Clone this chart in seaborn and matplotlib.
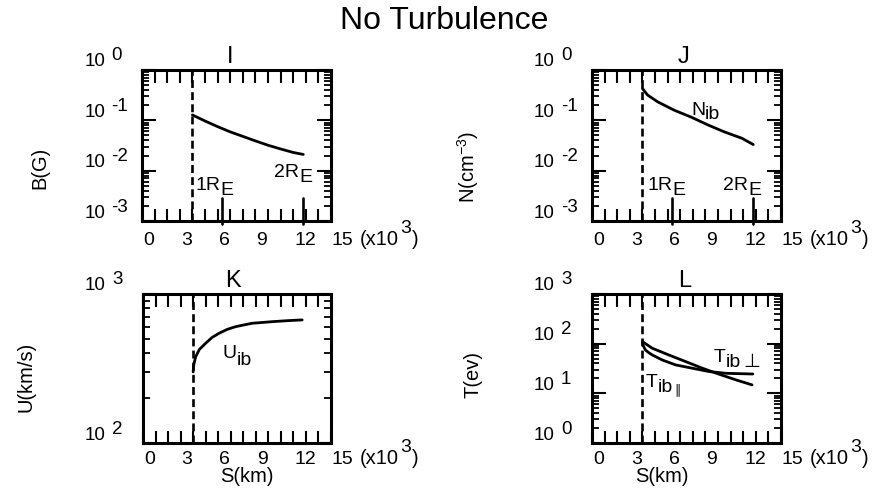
import numpy as np
import pandas as pd
import matplotlib
matplotlib.use("Agg")
import matplotlib.pyplot as plt
import seaborn as sns
from matplotlib.ticker import MultipleLocator, FixedLocator, NullFormatter

# Distance along the field line S (units of 10^3 km)
s_bfield = [4.0, 5.0, 6.0, 7.0, 8.0, 9.0, 10.0, 11.0, 12.0, 12.8]
b_field = [0.128, 0.097, 0.075, 0.059, 0.048, 0.039, 0.032, 0.027, 0.023, 0.021]

s_density = [4.0, 4.4, 5.2, 6.5, 7.9, 9.2, 10.5, 11.9, 12.8]
n_ib = [0.43, 0.32, 0.234, 0.160, 0.115, 0.081, 0.059, 0.044, 0.033]

s_velocity = [4.0, 4.05, 4.2, 4.5, 5.0, 5.5, 6.05, 6.7, 7.4, 8.7, 10.3, 11.5, 12.7]
u_ib = [300, 335, 379, 425, 467, 510, 544, 578, 604, 636, 652, 662, 670]

s_temp_perp = [4.0, 4.78, 6.11, 7.44, 8.77, 10.1, 11.44, 12.7]
t_ib_perp = [110, 81, 59, 43.5, 32, 24.2, 18.6, 14.8]

s_temp_par = [4.0, 4.1, 4.24, 4.5, 4.78, 5.57, 6.64, 7.97, 9.31, 10.64, 12.77]
t_ib_par = [101.6, 88, 74.6, 66, 59.3, 47.0, 37.3, 32.0, 27.4, 25.3, 24.5]

# Reference positions along S
s_boundary = 4.0
s_earth_radii = [6.37, 12.74]
x_tick_values = [0, 3, 6, 9, 12, 15]

sns.set_theme(style="white")
plt.rcParams["font.family"] = ["Liberation Sans", "DejaVu Sans"]
plt.rcParams["mathtext.fontset"] = "custom"
plt.rcParams["mathtext.rm"] = "Liberation Sans"
for key in ["text.color", "axes.labelcolor", "xtick.color", "ytick.color", "axes.edgecolor"]:
    plt.rcParams[key] = "black"

FS_Y = 13.5
FS_X = 14
FS_LAB = 14.5
FS_NOTE = 14

W, H = 878, 493
fig = plt.figure(figsize=(W / 100, H / 100), dpi=100)


def make_axes(left, top, right, bottom):
    return fig.add_axes([left / W, 1 - bottom / H, (right - left) / W, (bottom - top) / H])


def frame(ax, ylo, yhi, label_drop):
    ax.set_yscale("log")
    ax.set_xlim(0, 15)
    ax.set_ylim(10.0 ** ylo, 10.0 ** yhi)
    ax.xaxis.set_major_locator(MultipleLocator(1))
    ax.xaxis.set_major_formatter(NullFormatter())
    decades = [10.0 ** e for e in range(ylo, yhi + 1)]
    ax.yaxis.set_major_locator(FixedLocator(decades))
    ax.yaxis.set_minor_locator(FixedLocator([m * d for d in decades[:-1] for m in range(2, 10)]))
    ax.yaxis.set_major_formatter(NullFormatter())
    ax.yaxis.set_minor_formatter(NullFormatter())
    ax.tick_params(which="both", direction="in", top=True, right=True,
                   bottom=True, left=True, color="black")
    ax.tick_params(axis="x", which="major", length=9.0, width=1.5)
    ax.tick_params(axis="y", which="major", length=10.0, width=1.5)
    ax.tick_params(axis="y", which="minor", length=5.0, width=1.3)
    for sp in ax.spines.values():
        sp.set_linewidth(2.2)
        sp.set_color("black")
    ax.grid(False)
    ax.set_xlabel("")
    ax.set_ylabel("")

    # decade labels: "10" with a raised exponent
    for e in range(ylo, yhi + 1):
        t = ax.annotate("10", xy=(0, 10.0 ** e), xycoords=("axes fraction", "data"),
                        xytext=(-37, 8), textcoords="offset pixels",
                        ha="right", va="center", fontsize=FS_Y, annotation_clip=False)
        ax.annotate(str(e), xy=(1, 0), xycoords=t, xytext=(6, 6),
                    textcoords="offset pixels", ha="left", va="bottom",
                    fontsize=FS_Y, annotation_clip=False)

    # distance labels, with the (x10^3) multiplier after the last one
    last = None
    for v in x_tick_values:
        last = ax.annotate(str(v), xy=(v, 0), xycoords=("data", "axes fraction"),
                           xytext=(1, -label_drop), textcoords="offset pixels",
                           ha="left", va="baseline", fontsize=FS_X, annotation_clip=False)
    m = ax.annotate("(x10", xy=(1, 0), xycoords=last, xytext=(6, 0),
                    textcoords="offset pixels", ha="left", va="bottom", fontsize=14.5)
    e3 = ax.annotate("3", xy=(1, 0), xycoords=m, xytext=(1, 12),
                     textcoords="offset pixels", ha="left", va="bottom", fontsize=FS_X)
    ax.annotate(")", xy=(1, 0), xycoords=e3, xytext=(1, -12),
                textcoords="offset pixels", ha="left", va="bottom", fontsize=14.5)

    ax.axvline(s_boundary, color="black", lw=1.9, ls=(0, (3, 1.6)))


def sub_text(ax, x, y, base, sub, tail=None, drop=5, tail_fs=None):
    t = ax.annotate(base, xy=(x, y), xycoords="data", ha="left", va="baseline",
                    fontsize=FS_NOTE, annotation_clip=False)
    s = ax.annotate(sub, xy=(1, 0), xycoords=t, xytext=(0, -drop),
                    textcoords="offset pixels", ha="left", va="bottom",
                    fontsize=FS_NOTE, annotation_clip=False)
    if tail is not None:
        ax.annotate(tail, xy=(1, 0), xycoords=s, xytext=(2, 0),
                    textcoords="offset pixels", ha="left", va="bottom",
                    fontsize=tail_fs or FS_NOTE, annotation_clip=False)


def earth_radii(ax, pos1, pos2):
    for s in s_earth_radii:
        ax.axvline(s, ymin=-0.02, ymax=0.15, color="black", lw=1.9, clip_on=False)
    sub_text(ax, pos1[0], pos1[1], "1R", "E")
    sub_text(ax, pos2[0], pos2[1], "2R", "E")


line_kw = dict(color="black", linewidth=2.0, sort=False, legend=False)

# Panel I: magnetic field
ax_i = make_axes(142, 70, 331, 221)
sns.lineplot(x=s_bfield, y=b_field, ax=ax_i, **line_kw)
frame(ax_i, -3, 0, 24)
earth_radii(ax_i, (4.24, 0.0041), (10.48, 0.0075))
ax_i.set_title("I", fontsize=17, x=0.465, pad=5)

# Panel J: ion beam density
ax_j = make_axes(592, 70, 781, 221)
sns.lineplot(x=s_density, y=n_ib, ax=ax_j, **line_kw)
frame(ax_j, -3, 0, 24)
earth_radii(ax_j, (4.42, 0.0041), (10.42, 0.0041))
sub_text(ax_j, 7.86, 0.127, "N", "ib", drop=4)
ax_j.set_title("J", fontsize=17, x=0.483, pad=5)

# Panel K: ion beam velocity
ax_k = make_axes(143, 294, 331, 443)
sns.lineplot(x=s_velocity, y=u_ib, ax=ax_k, **line_kw)
frame(ax_k, 2, 3, 21)
sub_text(ax_k, 6.34, 372, "U", "ib", drop=7)
ax_k.set_title("K", fontsize=17, x=0.478, pad=5)

# Panel L: ion beam temperatures
ax_l = make_axes(592, 294, 781, 443)
sns.lineplot(x=s_temp_perp, y=t_ib_perp, ax=ax_l, **line_kw)
sns.lineplot(x=s_temp_par, y=t_ib_par, ax=ax_l, **line_kw)
frame(ax_l, 0, 3, 21)
sub_text(ax_l, 9.68, 42.8, "T", "ib", tail="\u22a5", drop=5)
sub_text(ax_l, 4.24, 13.5, "T", "ib", tail="\u2225", drop=5, tail_fs=9)
ax_l.set_title("L", fontsize=17, x=0.492, pad=5)

# Axis names
fig.text(40 / W, 1 - 168 / H, "B(G)", rotation=90, ha="center", va="center", fontsize=FS_LAB)
fig.text(468 / W, 1 - 167 / H, "N(cm$^{-3}$)", rotation=90, ha="center", va="center", fontsize=FS_LAB)
fig.text(26 / W, 1 - 377 / H, "U(km/s)", rotation=90, ha="center", va="center", fontsize=FS_LAB)
fig.text(473 / W, 1 - 375 / H, "T(ev)", rotation=90, ha="center", va="center", fontsize=FS_LAB)
fig.text(247 / W, 1 - 476 / H, "S(km)", ha="center", va="center", fontsize=FS_LAB)
fig.text(662 / W, 1 - 477 / H, "S(km)", ha="center", va="center", fontsize=FS_LAB)

fig.text(444 / W, 1 - 21 / H, "No Turbulence", ha="center", va="center", fontsize=23)

fig.savefig("out.png", dpi=100, facecolor="white")
